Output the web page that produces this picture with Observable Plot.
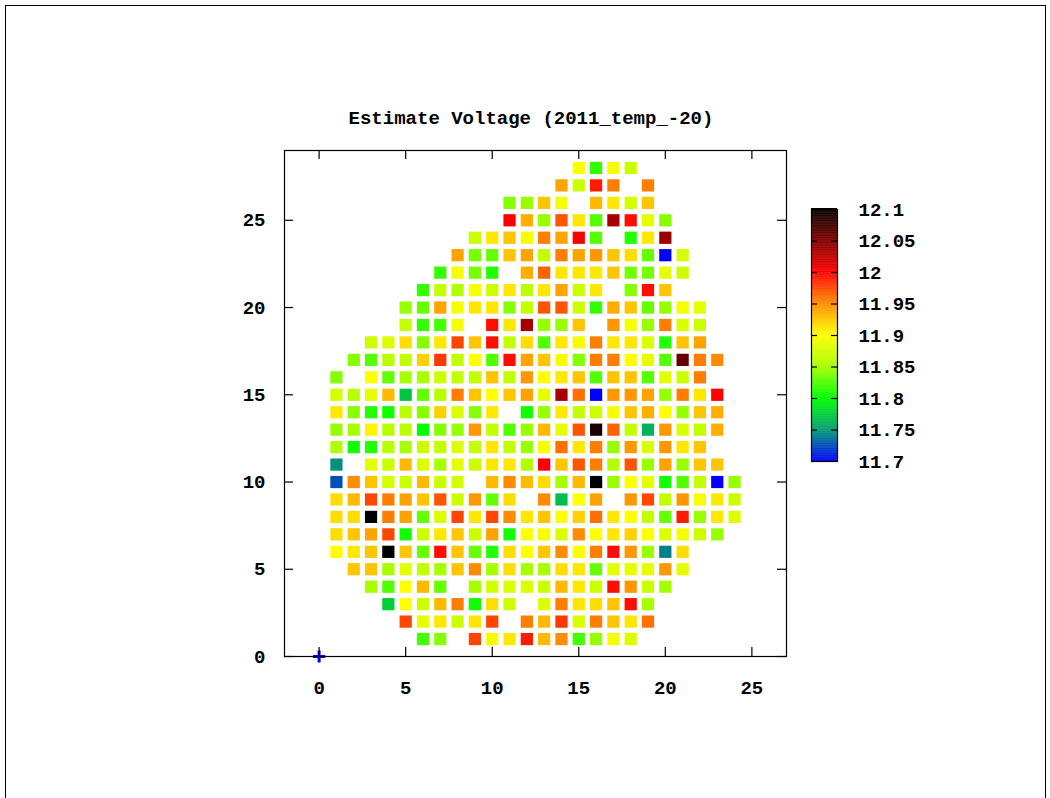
<!DOCTYPE html>
<html>
<head>
<meta charset="utf-8">
<script src="https://cdn.jsdelivr.net/npm/d3@7"></script>
<script src="https://cdn.jsdelivr.net/npm/@observablehq/plot@0.6"></script>
<style>
  html, body { margin: 0; padding: 0; background: #fff; overflow: hidden; width: 1050px; height: 798px; }
  #page { position: relative; width: 1050px; height: 798px; }
  #border { position: absolute; left: 5px; top: 5px; width: 1041px; height: 900px; border: 1px solid #000; box-sizing: border-box; }
  #title { position: absolute; left: 281px; width: 500px; top: 110px; text-align: center;
           font-family: "Liberation Mono", monospace; font-weight: bold; font-size: 19px; line-height: 19px; color: #000; white-space: nowrap; }
  #main { position: absolute; left: 0; top: 0; }
  #cbar { position: absolute; left: 800px; top: 190px; }
</style>
</head>
<body>
<div id="page">
  <div id="border"></div>
  <div id="main"></div>
  <div id="title">Estimate Voltage (2011_temp_-20)</div>
  <div id="cbar"></div>
</div>
<script>
// Estimated voltage per grid cell. Each row lists the cells from its first column onward; null = no cell.
const rowY = [28, 27, 26, 25, 24, 23, 22, 21, 20, 19, 18, 17, 16, 15, 14, 13, 12, 11, 10, 9, 8, 7, 6, 5, 4, 3, 2, 1];
const rowStartX = [15, 14, 11, 11, 9, 8, 7, 6, 5, 5, 3, 2, 1, 1, 1, 1, 1, 1, 1, 1, 1, 1, 1, 2, 3, 4, 5, 6];
const rowValues = [
  [11.9, 11.815, 11.895, 11.87],
  [11.94, 11.87, 11.99, 11.955, null, 11.955],
  [11.84, 11.845, 11.925, 11.895, null, 11.93, 11.91, 11.875, 11.925],
  [12.0, 11.935, 11.845, 11.97, 11.91, 11.825, 12.035, 11.995, 11.885, 11.84],
  [11.87, 11.91, 11.925, 11.895, 11.955, 11.94, 12.0, 11.825, null, 11.81, 11.91, 12.04],
  [11.94, 11.835, 11.83, 11.925, 11.94, 11.865, 11.955, 11.94, 11.945, 11.925, 11.915, 11.83, 11.70, 11.875],
  [11.815, 11.895, 11.835, 11.81, null, 11.935, 11.965, 11.91, 11.91, 11.91, 11.925, 11.835, 11.835, 11.885, 11.87],
  [11.815, 11.865, 11.855, 11.895, 11.87, 11.91, 11.86, 11.91, 11.94, 11.87, 11.91, null, 11.84, 11.995, 11.925],
  [11.845, 11.83, 11.94, 11.895, 11.91, 11.91, 11.84, 11.865, 11.97, 11.97, 11.87, 11.815, 11.935, 11.925, 11.83, 11.845, 11.895, 11.885],
  [11.865, 11.815, 11.82, 11.895, null, 11.995, 11.91, 12.035, 11.845, 11.845, 11.925, null, 11.945, 11.895, 11.845, 11.955, 11.88, 11.87],
  [11.87, 11.88, 11.915, 11.84, 11.91, 11.975, 11.925, 11.995, 11.865, 11.915, 11.825, 11.91, 11.895, 11.955, 11.91, 11.91, 11.88, 11.81, 11.925, 11.94],
  [11.84, 11.825, 11.86, 11.865, 11.92, 11.98, 11.865, 11.9, 11.825, 11.995, 11.94, 11.925, 11.895, 11.84, 11.955, 11.955, 11.9, 11.885, 11.825, 12.06, 11.955, 11.95],
  [11.84, null, 11.9, 11.83, 11.85, 11.85, 11.87, 11.865, 11.865, 11.925, 11.865, 11.945, 11.9, 11.91, 11.925, 11.825, 11.925, 11.925, 11.825, 11.885, 11.87, 11.955],
  [11.875, 11.86, 11.885, 11.93, 11.77, 11.83, 11.86, 11.955, 11.925, 11.9, 11.925, 11.94, 11.885, 12.035, 11.96, 11.70, 11.945, 11.945, 11.94, 11.845, 11.955, 11.91, 12.0],
  [11.91, 11.84, 11.81, 11.805, 11.86, 11.84, 11.92, 11.88, 11.84, 11.91, null, 11.805, 11.845, 11.91, 11.865, 11.87, 11.895, 11.925, 11.935, 11.9, 11.845, 11.925, 11.935],
  [11.845, 11.85, 11.905, 11.86, 11.86, 11.80, 11.84, 11.845, 11.945, 11.865, 11.825, 11.845, 11.93, 11.885, 11.97, 12.09, 11.965, 11.865, 11.76, 11.945, 11.88, 11.865, 11.935],
  [11.855, 11.805, 11.81, 11.86, 11.85, 11.87, 11.865, 11.88, 11.865, 11.91, 11.865, 11.845, 11.895, 11.96, 11.91, 11.955, 11.845, 11.945, 11.88, 11.945, 11.91, 11.925],
  [11.745, null, 11.885, 11.87, 11.93, 11.88, 11.85, 11.885, 11.87, 11.91, 11.91, 11.855, 12.0, 11.925, 11.97, 11.955, 11.855, 11.97, 11.845, 11.94, 11.845, 11.925, 11.925],
  [11.725, 11.95, 11.925, 11.875, 11.87, 11.93, 11.87, 11.875, null, 11.93, 11.95, 11.93, 11.915, 11.85, 11.93, 12.1, 11.845, 11.9, 11.885, 11.805, 11.825, 11.865, 11.70, 11.845],
  [11.915, 11.93, 11.975, 11.955, 11.94, 11.925, 11.97, 11.87, 11.945, 11.83, 11.915, null, 11.95, 11.765, 11.9, 11.94, null, 11.945, 11.975, 11.865, 11.945, 11.895, 11.91, 11.87],
  [11.915, 11.915, 12.1, 11.955, 11.94, 11.83, 11.88, 11.975, 11.91, 11.975, 11.95, 11.91, 11.925, 11.9, 11.92, 11.96, 11.91, 11.9, 11.865, 11.83, 11.99, 11.845, 11.91, 11.88],
  [11.915, 11.925, 11.94, 11.975, 11.805, 11.87, 11.91, 11.925, 11.87, 11.94, 11.805, 11.9, 11.895, 11.88, 11.95, 11.9, 11.91, 11.92, 11.9, 11.88, 11.895, 11.87, 11.845],
  [11.9, 11.91, 11.925, 12.1, 11.925, 11.83, 11.995, 11.925, 11.83, 11.81, 11.915, 11.9, 11.925, 11.95, 11.9, 11.955, 11.995, 11.945, 11.845, 11.74, 11.915],
  [11.925, 11.925, 11.85, 11.885, 11.865, 11.85, 11.925, 11.95, 11.85, 11.915, 11.85, 11.85, 11.915, 11.91, 11.83, 11.885, 11.885, 11.885, 11.945, 11.885],
  [11.85, 11.825, 11.9, 11.93, 11.83, null, 11.85, 11.875, 11.88, 11.88, 11.87, 11.93, 11.91, 11.87, 11.995, 11.945, 11.87, 11.85],
  [11.775, 11.9, 11.87, 11.93, 11.955, 11.805, 11.915, 11.87, null, 11.88, 11.955, 11.91, 11.915, 11.925, 11.995, 11.85],
  [11.975, 11.885, 11.91, 11.87, 11.91, 11.975, null, 11.955, 11.93, 11.98, 11.88, 11.955, 11.925, 11.91, 11.96],
  [11.82, 11.84, null, 11.975, 11.895, 11.91, 11.99, 11.93, 11.95, 11.82, 11.845, 11.895, 11.88]
];

// Reference point at the origin, drawn at the bottom of the colour range.
const originPoint = { x: 0, y: 0, v: 11.7 };

// Axis ticks and labels.
const xTickValues = [0, 5, 10, 15, 20, 25];
const xTickLabels = ["0", "5", "10", "15", "20", "25"];
const yTickValues = [0, 5, 10, 15, 20, 25];
const yTickLabels = ["0", "5", "10", "15", "20", "25"];
const cbTickValues = [11.7, 11.75, 11.8, 11.85, 11.9, 11.95, 12, 12.05, 12.1];
const cbTickLabels = ["11.7", "11.75", "11.8", "11.85", "11.9", "11.95", "12", "12.05", "12.1"];

// Palette stops: blue -> teal -> green -> yellow -> orange -> red -> dark red -> black.
const paletteStops = [11.7, 11.75, 11.8, 11.85, 11.9, 11.95, 12.0, 12.05, 12.1];
const paletteColors = ["#0000ff", "#00a070", "#00ff00", "#a8ff00", "#ffff00", "#ff8c00", "#ff0000", "#800000", "#000000"];

const colorScale = { type: "linear", domain: paletteStops, range: paletteColors, interpolate: "rgb", clamp: true };

const cells = rowY.flatMap((y, r) =>
  rowValues[r].map((v, i) => ({ x: rowStartX[r] + i, y, v })).filter(d => d.v != null)
);

const font = { fontFamily: "'Liberation Mono', 'DejaVu Sans Mono', monospace", fontSize: "19px", fontWeight: "bold", color: "#000", background: "transparent" };

// Main grid
const W = 1050, H = 720, mL = 284, mR = 264, mT = 150, mB = 64;
const frameW = W - mL - mR, frameH = H - mT - mB, tick = 9;

const main = Plot.plot({
  width: W, height: H,
  marginLeft: mL, marginRight: mR, marginTop: mT, marginBottom: mB,
  x: { domain: [-2, 27], axis: null, label: null },
  y: { domain: [0, 29], axis: null, label: null },
  color: colorScale,
  style: font,
  marks: [
    Plot.dot(cells, { x: "x", y: "y", fill: "v", symbol: "square", r: 6.9 }),
    Plot.dot([originPoint], { x: "x", y: "y", stroke: "v", symbol: "plus", r: 4, strokeWidth: 3 }),
    Plot.frame({ stroke: "#000", strokeWidth: 1.2 }),
    Plot.ruleX(xTickValues, { insetTop: frameH - tick, stroke: "#000", strokeWidth: 1.2 }),
    Plot.ruleX(xTickValues, { insetBottom: frameH - tick, stroke: "#000", strokeWidth: 1.2 }),
    Plot.ruleY(yTickValues, { insetRight: frameW - tick, stroke: "#000", strokeWidth: 1.2 }),
    Plot.ruleY(yTickValues, { insetLeft: frameW - tick, stroke: "#000", strokeWidth: 1.2 }),
    Plot.axisX(xTickValues, { anchor: "bottom", tickSize: 0, tickPadding: 24, label: null,
      tickFormat: d => xTickLabels[xTickValues.indexOf(d)] }),
    Plot.axisY(yTickValues, { anchor: "left", tickSize: 0, tickPadding: 19, label: null,
      tickFormat: d => yTickLabels[yTickValues.indexOf(d)] })
  ]
});
document.getElementById("main").append(main);

// Colour bar
const cbW = 150, cbH = 290, cbL = 11, cbR = 113, cbT = 19, cbB = 19;
const barW = cbW - cbL - cbR, cbTick = 6;
const rampStep = 0.001;
const ramp = d3.range(11.7, 12.1, rampStep);

const cbar = Plot.plot({
  width: cbW, height: cbH,
  marginLeft: cbL, marginRight: cbR, marginTop: cbT, marginBottom: cbB,
  x: { domain: [0, 1], axis: null },
  y: { domain: [11.7, 12.1], axis: null, label: null },
  color: colorScale,
  style: font,
  marks: [
    Plot.rect(ramp, { x1: () => 0, x2: () => 1, y1: d => d, y2: d => d + rampStep * 1.6, fill: d => d }),
    Plot.frame({ stroke: "#000", strokeWidth: 1.2 }),
    Plot.ruleY(cbTickValues.slice(1, -1), { insetRight: barW - cbTick, stroke: "#000", strokeWidth: 1.2 }),
    Plot.ruleY(cbTickValues.slice(1, -1), { insetLeft: barW - cbTick, stroke: "#000", strokeWidth: 1.2 }),
    Plot.axisY(cbTickValues, { anchor: "right", tickSize: 0, tickPadding: 21, label: null,
      tickFormat: d => cbTickLabels[cbTickValues.indexOf(d)] })
  ]
});
document.getElementById("cbar").append(cbar);
</script>
</body>
</html>
